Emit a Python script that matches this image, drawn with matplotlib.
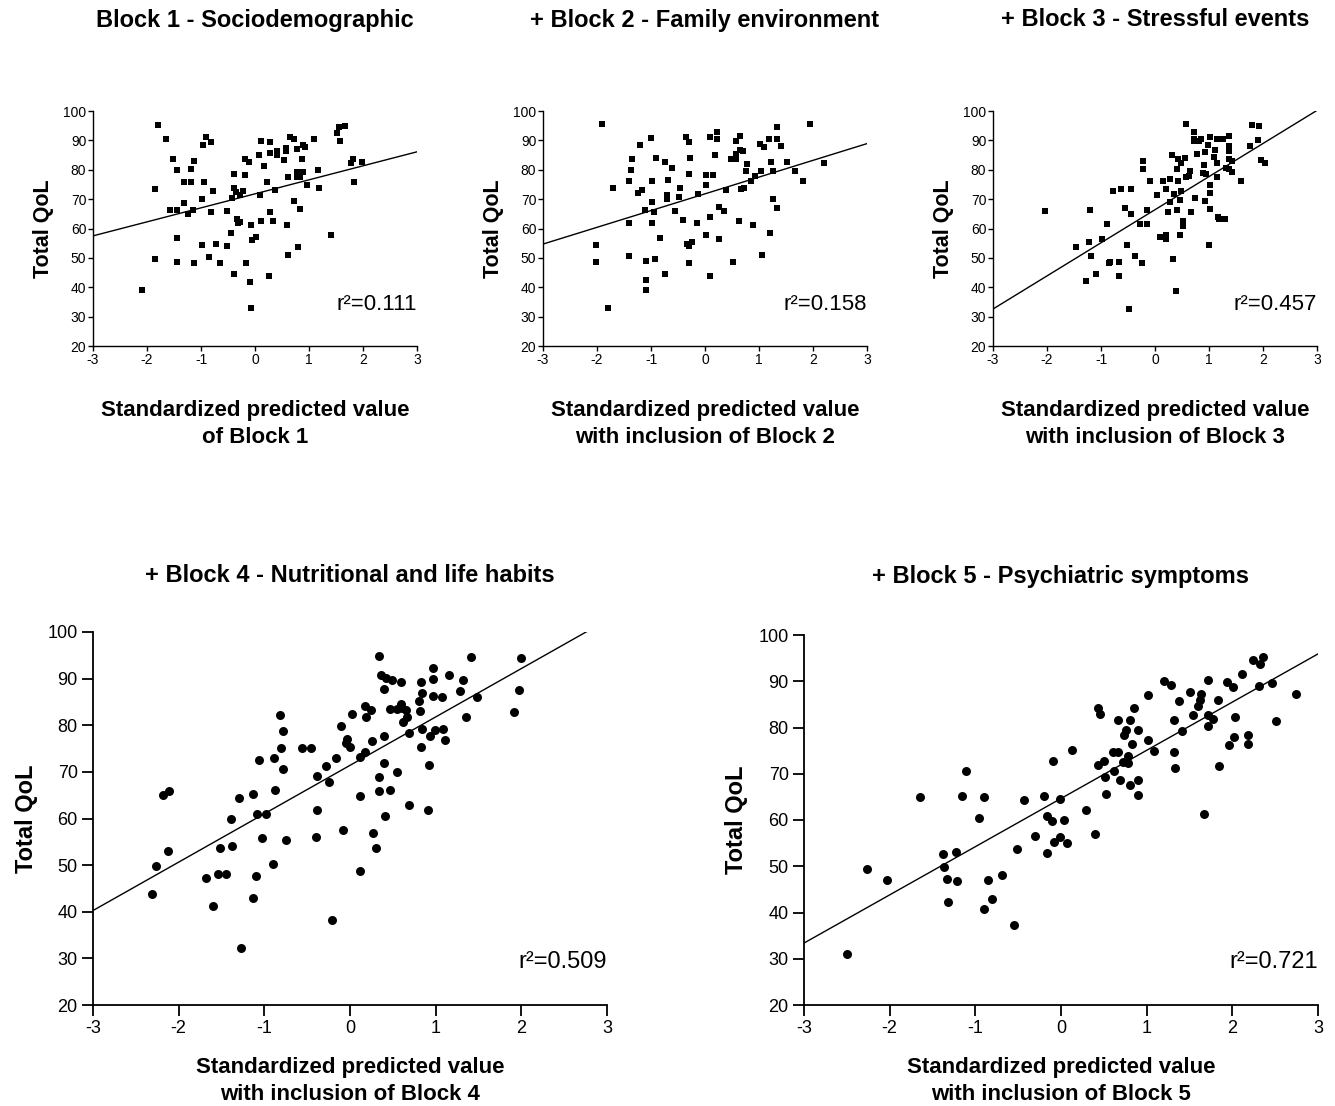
import matplotlib
matplotlib.use("Agg")
import matplotlib.pyplot as plt
import numpy as np

plt.rcParams['font.family'] = ['Liberation Sans', 'DejaVu Sans']
plt.rcParams['axes.unicode_minus'] = False

# Panel titles and axis text
titles = ['Block 1 - Sociodemographic', '+ Block 2 - Family environment',
          '+ Block 3 - Stressful events', '+ Block 4 - Nutritional and life habits',
          '+ Block 5 - Psychiatric symptoms']
xlabels = ['Standardized predicted value\nof Block 1',
           'Standardized predicted value\nwith inclusion of Block 2',
           'Standardized predicted value\nwith inclusion of Block 3',
           'Standardized predicted value\nwith inclusion of Block 4',
           'Standardized predicted value\nwith inclusion of Block 5']
r2_labels = ['r\u00b2=0.111', 'r\u00b2=0.158', 'r\u00b2=0.457', 'r\u00b2=0.509', 'r\u00b2=0.721']

# Regression lines (intercept, slope)
fit_intercept = [71.8, 71.8, 66.4, 71.4, 64.65]
fit_slope = [4.77, 5.7, 11.27, 10.38, 10.42]

# Block 1
x1 = [-2.09, -1.86, -1.85, -1.80, -1.64, -1.57, -1.51, -1.44, -1.44, -1.44, -1.44, -1.31, -1.31,
      -1.25, -1.18, -1.18, -1.14, -1.13, -1.13, -0.99, -0.98, -0.97, -0.94, -0.90, -0.86, -0.81,
      -0.81, -0.78, -0.73, -0.64, -0.52, -0.52, -0.45, -0.42, -0.39, -0.38, -0.38, -0.35, -0.33,
      -0.31, -0.27, -0.27, -0.22, -0.19, -0.18, -0.17, -0.11, -0.10, -0.07, -0.07, -0.05, 0.02,
      0.07, 0.09, 0.12, 0.12, 0.17, 0.23, 0.26, 0.27, 0.28, 0.28, 0.33, 0.37, 0.40, 0.40, 0.54,
      0.58, 0.58, 0.61, 0.60, 0.61, 0.64, 0.72, 0.73, 0.78, 0.78, 0.78, 0.79, 0.83, 0.84, 0.84,
      0.87, 0.88, 0.89, 0.93, 0.97, 1.09, 1.17, 1.18, 1.41, 1.51, 1.56, 1.57, 1.67, 1.77, 1.81,
      1.83, 1.98]
y1 = [39.0, 49.7, 73.6, 95.4, 90.6, 66.3, 83.6, 79.8, 66.2, 56.7, 48.7, 75.8, 68.7,
      65.1, 80.3, 75.8, 66.2, 82.9, 48.3, 69.9, 54.4, 88.3, 75.8, 91.3, 50.4, 89.4,
      65.5, 72.9, 54.7, 48.3, 66.0, 54.1, 58.3, 70.5, 44.4, 78.6, 73.7, 72.3, 63.4,
      62.0, 71.3, 62.1, 72.9, 83.8, 78.1, 48.3, 82.5, 41.9, 32.9, 61.1, 56.2, 57.2,
      84.9, 71.3, 89.9, 62.5, 81.4, 76.0, 43.8, 65.6, 89.6, 85.7, 62.7, 73.1, 84.9, 86.3, 83.3,
      87.4, 86.5, 77.4, 61.1, 51.1, 91.3, 69.4, 90.4, 86.9, 79.3, 77.4, 53.7, 66.6, 79.3, 77.4,
      83.6, 79.3, 88.4, 87.6, 74.7, 90.4, 79.9, 73.9, 57.9, 92.5, 94.7, 89.9, 95.0, 82.3, 83.5,
      75.8, 82.5]

# Block 2
x2 = [-2.02, -2.01, -1.90, -1.80, -1.70, -1.41, -1.41, -1.40, -1.37, -1.35, -1.25, -1.20, -1.17,
      -1.11, -1.10, -1.09, -1.09, -1.00, -0.99, -0.99, -0.99, -0.94, -0.92, -0.90, -0.83, -0.75,
      -0.74, -0.71, -0.71, -0.69, -0.62, -0.56, -0.49, -0.46, -0.41, -0.36, -0.33, -0.30, -0.29,
      -0.29, -0.29, -0.28, -0.25, -0.13, -0.14, 0.01, 0.01, 0.02, 0.09, 0.09, 0.10, 0.14, 0.18,
      0.23, 0.23, 0.25, 0.26, 0.35, 0.38, 0.48, 0.51, 0.58, 0.58, 0.58, 0.64, 0.65, 0.63, 0.67,
      0.70, 0.73, 0.75, 0.78, 0.86, 0.89, 0.93, 1.01, 1.03, 1.06, 1.10, 1.18, 1.21, 1.23, 1.25,
      1.25, 1.33, 1.33, 1.33, 1.41, 1.52, 1.67, 1.81, 1.95, 2.20]
y2 = [54.4, 48.6, 95.6, 32.8, 73.8, 61.8, 76.2, 50.6, 80.0, 83.5, 72.2, 88.3, 73.2,
      66.2, 42.4, 48.8, 39.1, 90.7, 76.1, 69.0, 61.8, 65.6, 49.5, 84.0, 56.8, 82.5,
      44.5, 71.4, 69.9, 76.5, 80.6, 65.9, 70.6, 73.7, 63.0, 91.2, 54.7, 89.6, 54.1,
      48.4, 78.6, 84.1, 55.4, 71.8, 61.8, 78.1, 57.9, 74.9, 63.8, 44.0, 91.0, 78.1, 84.9,
      92.9, 90.4, 56.5, 67.4, 66.0, 73.0, 83.7, 48.6, 89.7, 85.4, 83.8, 86.7, 91.5, 62.6, 73.3,
      86.5, 73.9, 79.7, 81.9, 76.1, 61.2, 77.9, 88.6, 79.7, 51.1, 87.8, 90.3, 58.3, 82.6, 69.9,
      79.7, 94.7, 90.4, 67.0, 88.2, 82.8, 79.7, 76.1, 95.5, 82.4]

# Block 3
x3 = [-2.04, -1.46, -1.28, -1.23, -1.20, -1.19, -1.09, -0.98, -0.89, -0.85, -0.83, -0.78, -0.67,
      -0.67, -0.63, -0.52, -0.49, -0.44, -0.55, -0.44, -0.37, -0.27, -0.25, -0.22, -0.22, -0.15,
      -0.14, -0.09, 0.03, 0.10, 0.14, 0.21, 0.21, 0.21, 0.24, 0.28, 0.28, 0.32, 0.33, 0.36, 0.38,
      0.40, 0.40, 0.43, 0.43, 0.46, 0.46, 0.48, 0.49, 0.51, 0.51, 0.55, 0.57, 0.57, 0.63, 0.64,
      0.67, 0.72, 0.72, 0.72, 0.74, 0.77, 0.81, 0.86, 0.89, 0.90, 0.92, 0.93, 0.94, 0.98, 1.01,
      1.02, 1.02, 1.01, 1.00, 1.09, 1.12, 1.14, 1.14, 1.15, 1.16, 1.18, 1.25, 1.30, 1.31, 1.37,
      1.37, 1.37, 1.37, 1.37, 1.37, 1.42, 1.43, 1.59, 1.75, 1.80, 1.91, 1.93, 1.97, 2.03]
y3 = [66.0, 53.7, 42.0, 55.5, 66.2, 50.6, 44.5, 56.3, 61.5, 48.1, 48.6, 72.9, 48.6,
      43.8, 73.3, 54.4, 32.5, 73.3, 67.1, 64.9, 50.8, 61.5, 48.4, 82.9, 80.2, 66.2,
      61.5, 76.2, 71.3, 57.2, 76.1, 57.9, 56.3, 73.3, 65.6, 68.9, 76.8, 84.9, 49.5, 71.8, 38.6,
      80.4, 66.3, 76.2, 83.6, 57.9, 69.7, 82.4, 72.7, 62.5, 60.9, 84.0, 77.7, 95.6, 77.8, 79.6,
      65.7, 92.9, 90.4, 89.7, 70.4, 85.2, 89.9, 90.6, 79.0, 81.5, 86.2, 69.5, 78.6, 88.3, 91.3,
      72.2, 74.8, 66.8, 54.3, 84.2, 86.7, 90.4, 77.4, 82.2, 63.8, 63.4, 90.4, 63.1, 80.5, 91.5,
      88.1, 87.2, 86.5, 83.6, 80.2, 83.1, 79.3, 76.1, 88.1, 95.3, 90.1, 94.9, 83.3, 82.4]

# Block 4
x4 = [-2.31, -2.27, -2.18, -2.11, -2.12, -1.68, -1.60, -1.54, -1.52, -1.45, -1.39, -1.38, -1.30,
      -1.27, -1.13, -1.13, -1.10, -1.08, -1.06, -1.03, -0.98, -0.90, -0.89, -0.88, -0.82, -0.80,
      -0.78, -0.78, -0.75, -0.56, -0.46, -0.38, -0.39, -0.40, -0.28, -0.25, -0.16, -0.10, -0.08,
      -0.05, -0.03, 0.00, 0.02, 0.12, 0.12, 0.12, -0.21, 0.18, 0.18, 0.19, 0.24, 0.26, 0.27,
      0.30, 0.34, 0.34, 0.34, 0.36, 0.40, 0.40, 0.40, 0.41, 0.42, 0.47, 0.47, 0.49, 0.55, 0.55,
      0.59, 0.59, 0.61, 0.62, 0.65, 0.66, 0.69, 0.69, 0.80, 0.82, 0.83, 0.84, 0.84, 0.83, 0.92,
      0.91, 0.93, 0.97, 0.97, 0.97, 0.99, 1.07, 1.09, 1.11, 1.16, 1.28, 1.32, 1.35, 1.41, 1.48,
      1.92, 1.97, 2.00]
y4 = [43.8, 49.8, 65.0, 65.8, 53.0, 47.3, 41.3, 48.1, 53.6, 48.1, 59.9, 54.2, 64.3,
      32.2, 65.3, 43.0, 47.6, 61.0, 72.5, 55.9, 61.0, 50.3, 72.9, 66.2, 82.2, 75.2,
      78.8, 70.7, 55.3, 75.2, 75.2, 69.2, 61.8, 56.0, 71.3, 67.8, 73.0, 79.9, 57.5,
      76.3, 77.0, 75.3, 82.4, 73.2, 64.8, 48.8, 38.2, 74.2, 84.2, 81.7, 83.2, 76.7, 56.9,
      53.6, 94.8, 68.9, 65.9, 90.7, 87.8, 77.7, 72.0, 60.5, 90.1, 83.5, 66.2, 89.6, 69.9, 83.5,
      89.2, 84.5, 83.6, 80.6, 83.3, 81.8, 78.4, 62.8, 85.1, 83.0, 89.3, 86.9, 79.2, 75.3, 71.5,
      61.9, 77.8, 92.3, 90.0, 86.3, 78.9, 86.1, 79.2, 76.9, 90.7, 87.3, 89.8, 81.8, 94.6, 86.0,
      82.8, 87.6, 94.4]

# Block 5
x5 = [-2.50, -2.27, -2.03, -1.65, -1.38, -1.37, -1.33, -1.32, -1.23, -1.21, -1.16, -1.11, -0.96,
      -0.90, -0.90, -0.85, -0.81, -0.69, -0.55, -0.51, -0.43, -0.30, -0.20, -0.16, -0.10, 0.03,
      -0.01, -0.16, -0.08, -0.01, 0.07, -0.09, 0.13, 0.29, 0.40, 0.43, 0.45, 0.43, 0.50, 0.51,
      0.52, 0.61, 0.62, 0.67, 0.69, 0.67, 0.72, 0.74, 0.76, 0.78, 0.78, 0.81, 0.83, 0.81, 0.85,
      0.90, 0.90, 0.90, 1.01, 1.01, 1.08, 1.20, 1.28, 1.32, 1.32, 1.33, 1.38, 1.41, 1.51, 1.54,
      1.60, 1.62, 1.63, 1.67, 1.72, 1.72, 1.72, 1.78, 1.83, 1.84, 1.94, 2.01, 1.96, 2.02, 2.03,
      2.11, 2.18, 2.18, 2.24, 2.31, 2.32, 2.36, 2.46, 2.51, 2.74]
y5 = [31.1, 49.4, 47.1, 65.0, 52.7, 49.9, 47.3, 42.2, 53.0, 46.9, 65.2, 70.5, 60.5,
      64.9, 40.7, 47.1, 43.0, 48.1, 37.3, 53.8, 64.3, 56.6, 65.2, 60.9, 59.7, 60.0,
      64.5, 52.8, 55.2, 56.3, 55.1, 72.7, 75.1, 62.1, 57.0, 84.2, 82.9, 71.8, 72.8, 69.3,
      65.6, 74.8, 70.6, 74.8, 68.7, 81.7, 72.5, 78.4, 79.4, 73.8, 72.3, 81.7, 76.4, 67.6, 84.3,
      79.4, 68.6, 65.5, 77.3, 87.0, 74.9, 90.0, 89.2, 81.6, 74.8, 71.2, 85.8, 79.2, 87.6, 82.7,
      84.6, 85.9, 87.2, 61.3, 90.3, 82.8, 80.4, 81.8, 86.0, 71.6, 89.8, 88.8, 76.3, 77.9, 82.3,
      91.6, 78.3, 76.4, 94.5, 89.0, 93.8, 95.3, 89.6, 81.5, 87.3]

xs = [x1, x2, x3, x4, x5]
ys = [y1, y2, y3, y4, y5]

W, H = 1335, 1106
fig = plt.figure(figsize=(W / 100, H / 100), dpi=100)

# axes boxes in pixels: left, top, right, bottom
boxes = [(93, 111, 417, 346), (543, 111, 867, 346), (993, 111, 1317, 346),
         (93, 632, 607, 1005), (804, 635, 1318, 1005)]

for i in range(5):
    l, t, r, b = boxes[i]
    ax = fig.add_axes([l / W, 1 - b / H, (r - l) / W, (b - t) / H])
    small = i < 3
    if small:
        ax.scatter(xs[i], ys[i], marker='s', s=14, color='black', linewidths=0, zorder=3)
    else:
        ax.scatter(xs[i], ys[i], marker='o', s=42, color='black', linewidths=0, zorder=3)
    xl = np.array([-3, 3])
    ax.plot(xl, fit_intercept[i] + fit_slope[i] * xl, color='black', lw=1.0)
    ax.set_xlim(-3, 3)
    ax.set_ylim(20, 100)
    ax.set_xticks(range(-3, 4))
    ax.set_yticks(range(20, 101, 10))
    for s in ['top', 'right']:
        ax.spines[s].set_visible(False)
    for s in ['left', 'bottom']:
        ax.spines[s].set_linewidth(1.0 if small else 1.3)
    ax.tick_params(direction='out', length=3.8 if small else 8, width=1.0 if small else 1.3,
                   labelsize=10 if small else 13, pad=1 if small else 3)
    ax.text(1.0, 0.175 if small else 0.115, r2_labels[i], transform=ax.transAxes,
            ha='right', va='center', fontsize=16 if small else 17)

    cx = (l + r) / 2
    ty = 20 if small else 576
    fig.text(cx / W, 1 - ty / H, titles[i], ha='center', va='center',
             fontsize=17, fontweight='bold')
    ly = 424 if small else 1081
    fig.text(cx / W, 1 - ly / H, xlabels[i], ha='center', va='center',
             fontsize=16, fontweight='bold', linespacing=1.4)
    yx = l - (50 if small else 67)
    fig.text(yx / W, 1 - ((t + b) / 2) / H, 'Total QoL', rotation=90, ha='center',
             va='center', fontsize=15.5 if small else 17, fontweight='bold')

fig.savefig('out.png', dpi=100)
